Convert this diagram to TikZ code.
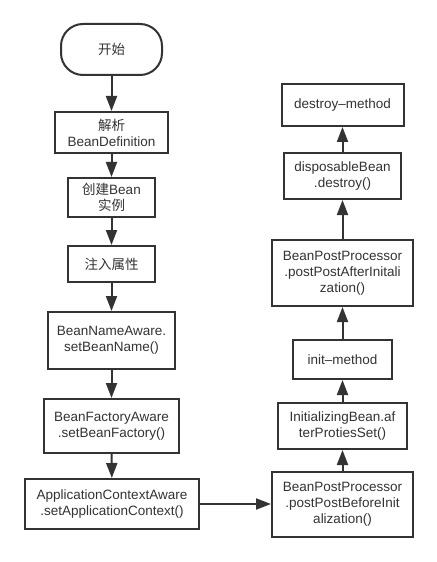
\documentclass[tikz,border=0pt]{standalone}
\usepackage{fontspec}
\setmainfont{Liberation Sans}
\newfontfamily\cjk{Noto Sans CJK SC}
\usetikzlibrary{arrows.meta}
\definecolor{ink}{HTML}{333333}
\begin{document}
\begin{tikzpicture}[x=1bp,y=-1bp,
  box/.style={draw=ink,line width=2bp,text=ink,align=center,inner sep=0pt,
    font=\fontsize{13.5bp}{16bp}\selectfont},
  term/.style={box,rounded corners=22bp},
  arr/.style={draw=ink,line width=2bp,-{Triangle[length=15bp,width=11bp]}}]
\useasboundingbox (0,0) rectangle (437,562);
\fill[white] (0,0) rectangle (437,562);
\node[term,minimum width=101bp,minimum height=51bp] (start) at (111.5,49.5) {\cjk 开始};
\node[box,minimum width=113bp,minimum height=41bp] (parse) at (111.5,132.5) {{\cjk 解析}\\BeanDefinition};
\node[box,minimum width=87bp,minimum height=39bp] (create) at (111.5,197.5) {{\cjk 创建}Bean\\{\cjk 实例}};
\node[box,minimum width=87bp,minimum height=36bp] (inject) at (111.5,264) {\cjk 注入属性};
\node[box,minimum width=127bp,minimum height=57bp] (bna) at (111.5,340.5) {BeanNameAware.\\setBeanName()};
\node[box,minimum width=135bp,minimum height=54bp] (bfa) at (111.5,426) {BeanFactoryAware\\.setBeanFactory()};
\node[box,minimum width=174bp,minimum height=50bp] (aca) at (112,504) {ApplicationContextAware\\.setApplicationContext()};
\node[box,minimum width=141bp,minimum height=65bp] (bppb) at (342.5,504.5) {BeanPostProcessor\\.postPostBeforeInit\\alization()};
\node[box,minimum width=129bp,minimum height=46bp] (ib) at (342.5,426) {InitializingBean.af\\terProtiesSet()};
\node[box,minimum width=99bp,minimum height=39bp] (init) at (342.5,359.5) {init–method};
\node[box,minimum width=141bp,minimum height=66bp] (bppa) at (342.5,273) {BeanPostProcessor\\.postPostAfterInitali\\zation()};
\node[box,minimum width=117bp,minimum height=46bp] (disp) at (342.5,176) {disposableBean\\.destroy()};
\node[box,minimum width=122bp,minimum height=42bp] (destroy) at (342.5,105) {destroy–method};
\draw[arr] (start) -- (parse);
\draw[arr] (parse) -- (create);
\draw[arr] (create) -- (inject);
\draw[arr] (inject) -- (bna);
\draw[arr] (bna) -- (bfa);
\draw[arr] (bfa) -- (aca);
\draw[arr] (aca.east) -- (aca.east -| bppb.west);
\draw[arr] (bppb) -- (ib);
\draw[arr] (ib) -- (init);
\draw[arr] (init) -- (bppa);
\draw[arr] (bppa) -- (disp);
\draw[arr] (disp) -- (destroy);
\end{tikzpicture}
\end{document}
